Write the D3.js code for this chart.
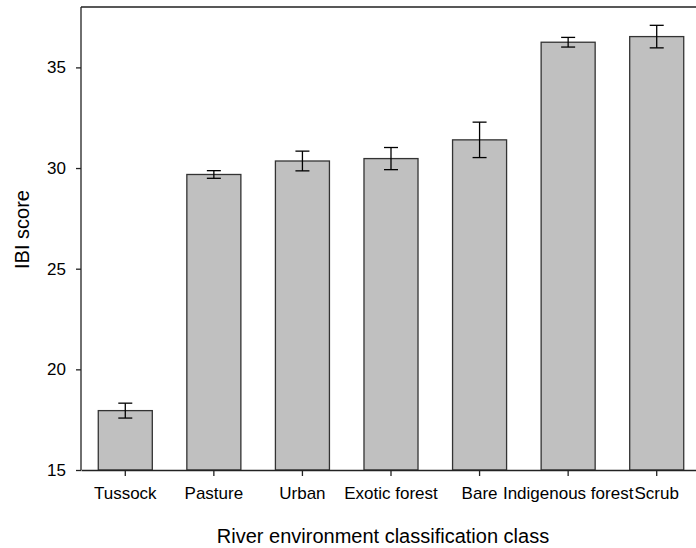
<!DOCTYPE html>
<html>
<head>
<meta charset="utf-8">
<script src="https://cdn.jsdelivr.net/npm/d3@7"></script>
<style>
  html, body { margin: 0; padding: 0; background: #fff; }
  svg { display: block; }
  text { font-family: Arial, "Liberation Sans", sans-serif; fill: #000; }
</style>
</head>
<body>
<svg id="chart" width="696" height="548"></svg>
<script>
// Mean IBI score per river environment classification class, with standard errors
const categories = ["Tussock", "Pasture", "Urban", "Exotic forest", "Bare", "Indigenous forest", "Scrub"];
const means = [17.95, 29.68, 30.35, 30.47, 31.40, 36.25, 36.53];
const errors = [0.37, 0.19, 0.49, 0.55, 0.88, 0.24, 0.56];
const yTicks = [15, 20, 25, 30, 35];

const svg = d3.select("#chart");
const plotLeft = 81, plotRight = 701, plotTop = 7, plotBottom = 470;

const x = d3.scaleBand()
  .domain(categories)
  .range([plotLeft, plotRight])
  .paddingInner(0.39)
  .paddingOuter(0.195);

const y = d3.scaleLinear()
  .domain([15, 38])
  .range([plotBottom, plotTop]);

// Plot frame (top and right edges; left and bottom come from the axes)
svg.append("path")
  .attr("d", `M${plotLeft},${plotTop}H${plotRight}V${plotBottom}`)
  .attr("fill", "none")
  .attr("stroke", "#222")
  .attr("stroke-width", 1.3);

// Bars
svg.append("g")
  .selectAll("rect")
  .data(categories)
  .join("rect")
  .attr("x", d => x(d))
  .attr("y", (d, i) => y(means[i]))
  .attr("width", x.bandwidth())
  .attr("height", (d, i) => plotBottom - y(means[i]))
  .attr("fill", "#c0c0c0")
  .attr("stroke", "#333")
  .attr("stroke-width", 1.3);

// Error bars
const eb = svg.append("g").attr("stroke", "#000").attr("stroke-width", 1.3);
categories.forEach((c, i) => {
  const cx = x(c) + x.bandwidth() / 2;
  const y1 = y(means[i] + errors[i]), y0 = y(means[i] - errors[i]);
  eb.append("line").attr("x1", cx).attr("x2", cx).attr("y1", y1).attr("y2", y0);
  eb.append("line").attr("x1", cx - 7).attr("x2", cx + 7).attr("y1", y1).attr("y2", y1);
  eb.append("line").attr("x1", cx - 7).attr("x2", cx + 7).attr("y1", y0).attr("y2", y0);
});

// Y axis
const yAxis = svg.append("g")
  .attr("transform", `translate(${plotLeft},0)`)
  .call(d3.axisLeft(y).tickValues(yTicks).tickSize(5).tickPadding(10).tickSizeOuter(0));
yAxis.select(".domain").attr("stroke", "#222").attr("stroke-width", 1.3)
  .attr("d", `M0,${plotTop}V${plotBottom}`);
yAxis.selectAll(".tick line").attr("stroke", "#222").attr("stroke-width", 1.3);
yAxis.selectAll(".tick text").attr("font-size", 17)
  .attr("font-family", "Arial, 'Liberation Sans', sans-serif").attr("fill", "#000");

// X axis
const xAxis = svg.append("g")
  .attr("transform", `translate(0,${plotBottom})`)
  .call(d3.axisBottom(x).tickSize(6).tickPadding(11).tickSizeOuter(0));
xAxis.select(".domain").attr("stroke", "#222").attr("stroke-width", 1.3);
xAxis.selectAll(".tick line").attr("stroke", "#222").attr("stroke-width", 1.3);
xAxis.selectAll(".tick text").attr("font-size", 17)
  .attr("font-family", "Arial, 'Liberation Sans', sans-serif").attr("fill", "#000");

// Axis titles
svg.append("text")
  .attr("x", 383)
  .attr("y", 543)
  .attr("text-anchor", "middle")
  .attr("font-size", 20)
  .text("River environment classification class");

svg.append("text")
  .attr("transform", "translate(28.5,229.5) rotate(-90)")
  .attr("text-anchor", "middle")
  .attr("font-size", 20)
  .text("IBI score");
</script>
</body>
</html>
